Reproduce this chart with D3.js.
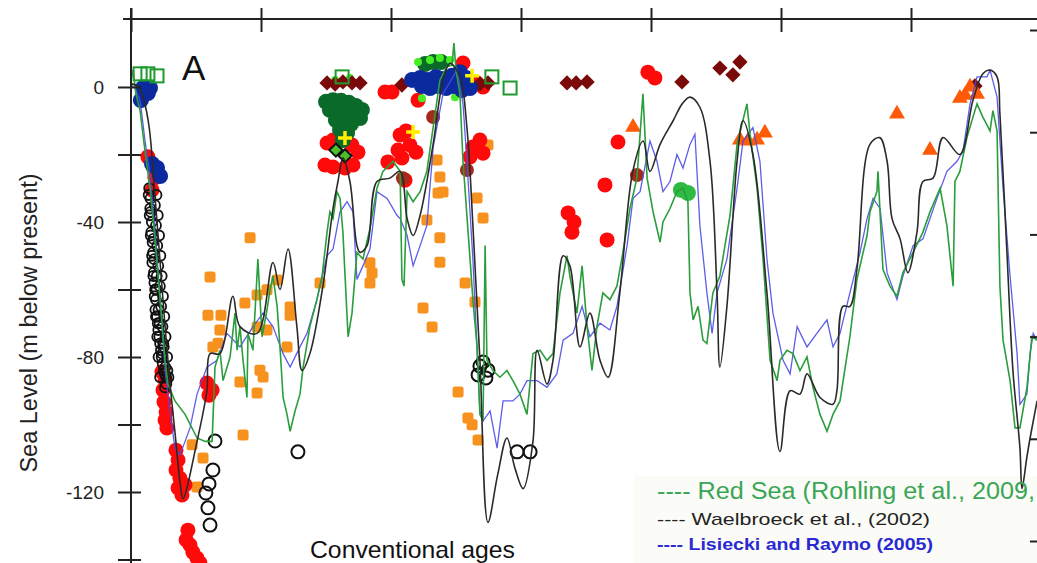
<!DOCTYPE html>
<html><head><meta charset="utf-8">
<script src="https://cdn.jsdelivr.net/npm/d3@7"></script>
<style>
body{margin:0;background:#fff}
svg{display:block}
text{font-family:"Liberation Sans",Arial,Helvetica,sans-serif}
</style>
</head><body>
<svg id="c" width="1037" height="563"></svg>
<script>
// ---------- axis ticks ----------
const ageTicks = [0, 50, 100, 150, 200, 250, 300, 350];
const levelTicks = [0, -20, -40, -60, -80, -100, -120, -140];
const levelLabels = [0, -40, -80, -120];
const rightTicks = [0, 1, 2, 3, 4, 5];

// ---------- series: [age ka, sea level m] ----------
const redSea = [[0,2],[0.8,5],[1.9,-2],[3.5,-7],[5.4,-19],[7.3,-30],[9.2,-45],[11.2,-63],[13.1,-81],[14.2,-88],[16.9,-93],[20.8,-97],[25.4,-104],[28.5,-105],[31.2,-105],[32.3,-83],[34.2,-78],[35.4,-87],[38.1,-80],[40,-67],[40.8,-78],[41.9,-71],[43.1,-81],[44.6,-92],[45,-73],[46.9,-78],[48.8,-51],[50.4,-74],[52.3,-66],[53.5,-60],[54.6,-56],[56.2,-65],[57.3,-77],[58.5,-92],[60,-97],[61.2,-102],[63.1,-96],[65,-91],[66.2,-83],[68.8,-71],[71.5,-63],[73.5,-56],[75.4,-43],[76.5,-37],[77.7,-39],[79.2,-31],[80.4,-33],[81.5,-43],[83.1,-68],[83.5,-74],[85,-67],[86.9,-49],[89.2,-51],[91.9,-42],[94.6,-30],[96.9,-25],[100.8,-22],[103.5,-25],[104.2,-57],[105,-59],[106.2,-31],[108.5,-34],[111.2,-31],[113.8,-25],[116.2,-12],[118.8,2],[121.5,6],[123.5,6.5],[124.2,13],[125,5],[126.5,-2],[127.7,-22],[130.4,-51],[131.5,-63],[133.1,-77],[134.2,-97],[135.4,-99],[136.2,-47],[136.9,-81],[139.2,-84],[141.9,-86],[144.6,-84],[146.9,-87],[149.6,-91],[152.3,-97],[154.6,-79],[157.3,-78],[160,-81],[162.3,-79],[165,-61],[167.7,-50],[168.8,-56],[171.5,-67],[173.5,-53],[175.4,-71],[177.3,-84],[179.2,-71],[181.5,-61],[184.2,-63],[186.9,-59],[189.2,-49],[191.9,-36],[194.6,-27],[196.9,-2],[198.5,-27],[200.8,-37],[203.5,-46],[204.6,-40],[207.3,-36],[210,-31],[212.3,-30],[214.2,-34],[215,-61],[216.2,-69],[218.1,-65],[220,-75],[221.5,-76],[223.8,-61],[226.5,-56],[230.4,-38],[233.1,-17],[236.9,-5],[238.1,-14],[240.8,-30],[243.1,-51],[245.8,-81],[248.5,-87],[249.6,-81],[252.3,-78],[254.6,-79],[257.3,-84],[260,-80],[262.3,-89],[265,-97],[267.7,-102],[270,-97],[272.7,-93],[276.5,-74],[279.2,-57],[283.1,-44],[284.2,-37],[286.9,-31],[287.3,-25],[289.2,-54],[291.9,-59],[294.6,-62],[296.9,-55],[300.8,-49],[304.6,-43],[307.3,-37],[311.2,-30],[313.8,-41],[316.2,-59],[316.9,-28],[318.8,-25],[321.5,-15],[323.8,-9],[325.4,-5],[327.7,-9],[330.4,-13],[331.5,-7],[333.1,-13],[334.2,-59],[335.4,-75],[338.1,-87],[340,-101],[341.9,-101],[344.6,-89],[346.5,-74],[348.5,-75]];

const waelbroeck = [[0,1],[3,0],[5,-4],[7,-12],[9,-30],[11,-50],[13,-70],[15,-88],[17,-103],[19,-118],[20,-122],[25.4,-105],[29.2,-90],[30.4,-79],[34.2,-79],[39.2,-62],[41.9,-71],[48.5,-73],[54.6,-52],[57.3,-60],[60.4,-48],[63.8,-71],[65.8,-84],[68.8,-79],[73.8,-59],[77.7,-36],[79.6,-28],[81.5,-21],[84.2,-28],[86.9,-47],[88.1,-49],[90.8,-47],[94.6,-28],[99.6,-27],[103.5,-25],[106.2,-39],[108.5,-44],[111.2,-38],[116.2,-17],[120,2],[122.7,7],[126.5,3],[129.2,-12],[131.5,-41],[134.2,-81],[137.3,-129],[141,-115],[144.6,-104],[147.7,-113],[150.8,-119],[154.6,-105],[156.2,-78],[160,-88],[162.3,-81],[166.2,-50],[168.8,-53],[172.7,-77],[176.5,-67],[180.4,-81],[183.5,-86],[188,-61],[193,-25],[197,-16],[199.6,-25],[203.5,-17],[208.5,-10],[212,-5],[215,-3],[218.8,-6],[222.7,-22],[225.4,-61],[226.5,-83],[229.2,-65],[233.1,-22],[235.4,-10],[239.2,-20],[244.6,-61],[249.6,-108],[253.5,-90],[257.3,-91],[260,-85],[265,-92],[270,-94],[271.5,-90],[273.8,-65],[276.5,-65],[279.2,-54],[284.2,-17],[288,-15],[290.8,-22],[292.7,-39],[295.8,-45],[298.8,-55],[302.3,-43],[304.6,-28],[308.5,-27],[312.3,-15],[318.8,-20],[323.8,-4],[327.7,4],[330.4,5],[333.1,3],[334.2,-8],[336.9,-49],[339.2,-84],[341.9,-107],[342.7,-119],[344.5,-110],[345.8,-104],[348.5,-93]];

const lisiecki = [[0,0.6],[1.5,-0.3],[3.5,-4],[5.4,-16],[7.3,-26],[9.2,-42],[11.2,-63],[13.1,-84],[15,-96],[16.9,-107],[18.8,-109],[20.8,-105],[22.7,-101],[25.4,-91],[29.2,-83],[33.1,-81],[36.9,-73],[41.9,-77],[46.9,-71],[50.8,-67],[54.6,-71],[58.5,-79],[61.2,-83],[65,-77],[67.7,-73],[71.5,-63],[75.4,-50],[77.7,-48],[80.4,-37],[83.1,-34],[85.4,-37],[86.9,-57],[89.2,-53],[91.9,-48],[94.6,-31],[98.5,-33],[102.3,-38],[103.5,-39],[106.2,-44],[108.5,-53],[111.2,-47],[113.8,-41],[116.2,-18],[120,-2],[125.4,5],[127.7,-5],[129.2,-22],[131.5,-51],[134.2,-96],[135.4,-99],[138.1,-96],[140.8,-107],[143.1,-93],[146.9,-93],[149.6,-91],[152.3,-87],[156.2,-87],[160,-89],[163.8,-85],[166.2,-75],[170,-73],[173.5,-65],[176.5,-74],[180.4,-70],[184.2,-72],[186.9,-65],[190.8,-47],[193.1,-33],[195.8,-31],[199.6,-16],[202.3,-22],[204.6,-31],[207.3,-28],[210,-20],[212.3,-24],[215,-17],[216.9,-14],[218.8,-41],[221.5,-61],[223.5,-73],[225.4,-61],[229.2,-51],[233.1,-30],[235.4,-16],[239.2,-12],[241.9,-22],[244.6,-51],[246.9,-67],[250.8,-81],[253.5,-85],[256.2,-71],[260,-77],[263.8,-73],[267.7,-69],[270,-77],[272.7,-73],[276.5,-61],[280.4,-49],[283.1,-39],[285.4,-33],[288.1,-36],[290.8,-55],[294.6,-63],[296.9,-56],[300.8,-47],[304.6,-45],[310,-33],[313.8,-25],[317.7,-22],[320,-19],[322.7,-5],[325.4,3],[329.2,3],[330.4,5],[333.1,-3],[335.4,-30],[338.1,-56],[340.8,-79],[341.9,-94],[344.6,-91],[345.8,-79],[347,-73],[348.5,-75]];

// ---------- data points: [age ka, sea level m] ----------
const redCircles = [[6.5,-20.7],[8.5,-23.7],[9.2,-26.9],[8.1,-30.5],[11.9,-84.4],[13.1,-86.8],[12.3,-89.8],[12.7,-93.3],[13.5,-96.3],[13.1,-98.7],[13.8,-101],[17.3,-107.6],[18.1,-110.5],[17.3,-113.5],[18.8,-115.9],[18.1,-118.8],[19.6,-120.9],[20.8,-117.9],[21.2,-134.2],[21.9,-131.3],[22.7,-135.7],[23.8,-137.8],[25.4,-139.6],[26.5,-141],[29.2,-87.7],[31.2,-89.8],[30,-91.3],[75.4,-16.6],[77.7,-15.7],[85,-17.2],[74.6,-23.1],[77.7,-23.7],[82.3,-24],[85.4,-23.1],[87.3,-19.3],[97.7,-1.5],[100.4,-1.5],[110.4,-3.9],[103.5,-14.2],[105.8,-13],[102.7,-18.7],[107.3,-17.2],[109.6,-19.3],[104.2,-21],[98.8,-22.2],[105.4,-27.6],[127.7,7.1],[133.1,1.2],[135.4,0],[131.5,-17.8],[134.2,-15.7],[135.4,-19.6],[130.4,-20.7],[187.3,-16.3],[182.3,-29],[168.1,-37.3],[170.4,-40],[169.6,-43],[183.1,-45.3],[198.8,4.4],[201.5,2.7]];
const brownCircles = [[116.2,-8.9],[129.2,-24.6],[194.6,-26.1],[104.6,-27]];
const orangeSquares = [[45.8,-44.7],[30.4,-56.3],[29.6,-67.6],[34.6,-67.6],[43.8,-64],[48.5,-61.6],[52.3,-60.1],[56.2,-57.2],[61.2,-65.2],[61.2,-67.6],[34.2,-72],[31.5,-77],[33.5,-75.9],[48.5,-71.1],[52.3,-72],[60,-77],[49.6,-83.9],[50.8,-85.9],[41.9,-87.4],[48.5,-90.7],[43.1,-103.1],[23.5,-106],[27.7,-109.9],[25.4,-118.5],[72.7,-58.1],[91.9,-52.1],[92.7,-55.1],[91.9,-58.1],[137.3,-17.2],[117.7,-21.6],[118.8,-26.7],[118.1,-31.4],[120,-31.1],[113.8,-39.4],[118.8,-44.7],[118.8,-51.9],[133.1,-32.9],[135.4,-38.8],[128.5,-58.1],[132.3,-63.7],[112.3,-65.5],[115.8,-71.1],[125.8,-90.4],[129.6,-98.1],[131.2,-100.1],[133.5,-104.6]];
const darkRedDiamonds = [[75.4,1.2],[78.5,0.9],[81.5,1.5],[85,1.2],[88.1,1.2],[104.2,0.6],[134.2,0.9],[137.3,1.2],[167.7,1.2],[171.2,1.2],[175.4,1.5],[211.9,1.5],[226.5,5.6],[231.5,3.6],[234.2,7.4],[324.6,0.3]];
const darkGreenCircles = [[75,-4.4],[77.7,-3.9],[80.8,-4.1],[83.8,-4.7],[86.5,-5.6],[88.8,-6.8],[76.5,-6.8],[79.6,-7.4],[82.7,-7.7],[85.8,-8.3],[88.1,-9.2],[78.8,-9.8],[81.9,-10.4],[84.6,-11],[80.4,-12.7],[83.1,-13.6],[81.5,-15.7],[113.1,6.8],[116.2,7.4],[119.2,7.4]];
const limeCircles = [[110.4,7.4],[115,8],[118.8,8.6],[122.7,8],[111.9,-3.3],[124.6,-3],[78.5,2.1],[84.2,2.7]];
const blueCircles = [[4.6,-0.3],[6.5,-1.8],[7.3,-0.3],[3.8,-3.9],[8.1,-22.8],[10,-24],[11.2,-26.4],[108.1,2.1],[111.2,2.7],[114.2,2.1],[117.3,3.0],[120.4,2.4],[123.5,3.3],[126.5,4.4],[128.8,2.7],[130.4,-0.3],[127.3,-0.9],[124.2,0.3],[121.2,-0.3],[118.1,0.3],[115,-0.3],[111.9,0.3],[125.8,2.1]];
const greenSquares = [[3.5,3.9],[6.5,3.9],[10,3.3],[81.2,3.0],[138.8,3.0],[145.8,-0.3]];
const yellowPlus = [[82.3,-15.1],[108.5,-13.3],[131.2,3.3]];
const greenDiamonds = [[78.8,-18.7],[82.3,-20.4]];
const orangeTriangles = [[193.1,-11.9],[234.2,-15.7],[237.3,-16],[240.8,-15.7],[243.8,-13.6],[294.6,-8],[307.3,-18.7],[318.8,-3.3],[320.8,-2.4],[325.4,-2.1],[322.7,0]];
const lightGreenCircles = [[211.5,-30.5],[214.2,-31.4]];
const smallOpenCircles = [[7.0,-30],[7.5,-33],[7.6,-37],[8.0,-40],[7.8,-43],[8.3,-46],[8.5,-49],[8.2,-52],[8.8,-55],[9.0,-58],[9.3,-60],[9.6,-63],[9.4,-66],[10.0,-68],[10.3,-70],[10.5,-72],[10.9,-74],[11.2,-76],[11.5,-78],[11.8,-80],[12.2,-82],[12.6,-84],[13.0,-85],[13.5,-86],[8.6,-45],[9.8,-60],[11.0,-70],[12.0,-79],[13.2,-83],[7.4,-36],[8.9,-51],[10.6,-66],[12.4,-76],[13.6,-88],[9.9,-56],
  [6.8,-32],[7.2,-38],[7.6,-44],[8.1,-50],[8.6,-56],[9.1,-62],[9.6,-68],[10.1,-74],[10.6,-80],[11.2,-86],
  [9.8,-32],[10.3,-38],[10.8,-44],[11.3,-50],[11.8,-56],[12.3,-62],[12.8,-68],[13.3,-74],[13.9,-80],[14.4,-86],
  [9.2,-35],[9.6,-41],[10.1,-47],[10.5,-53],[11.1,-59],[11.6,-65],[12.1,-71],[12.6,-77],[13.1,-89],[14.0,-84]];
const openCircles = [[32.3,-104.9],[31.5,-113.5],[30,-117.6],[28.8,-120.3],[29.6,-124.7],[30.4,-129.8],[64.2,-108.1],[134.2,-82.7],[137.3,-83.9],[133.5,-85.3],[136.5,-86.2],[135.4,-81.5],[148.5,-108.1],[153.5,-108.1]];

// ---------- texts ----------
const yLabel = "Sea Level (m below present)";
const panelLabel = "A";
const xNote = "Conventional ages";
const legendItems = [
  {text:"---- Red Sea (Rohling et al., 2009,", color:"#3aa655"},
  {text:"---- Waelbroeck et al., (2002)", color:"#222222"},
  {text:"---- Lisiecki and Raymo (2005)", color:"#2a2ad2"}
];

// ---------- layout ----------
const svg = d3.select("#c");
const x = d3.scaleLinear().domain([0, 350]).range([131, 1041]);
const y = d3.scaleLinear().domain([0, -120]).range([87, 492]);
const yR = d3.scaleLinear().domain([0, 5]).range([30, 541]);
const P = d => [x(d[0]), y(d[1])];

svg.append("rect").attr("x", 634).attr("y", 476).attr("width", 403).attr("height", 87).attr("fill", "#fbfbf7");

const marks = svg.append("g");

marks.selectAll(".os").data(orangeSquares).join("rect")
  .attr("x", d => x(d[0]) - 5.5).attr("y", d => y(d[1]) - 5.5)
  .attr("width", 11).attr("height", 11).attr("rx", 2.5)
  .attr("fill", "#f7921f");

marks.selectAll(".rc").data(redCircles).join("circle")
  .attr("cx", d => x(d[0])).attr("cy", d => y(d[1])).attr("r", 7.5).attr("fill", "#ff0a0a");
marks.selectAll(".bc").data(brownCircles).join("circle")
  .attr("cx", d => x(d[0])).attr("cy", d => y(d[1])).attr("r", 7).attr("fill", "#a52a1a");

marks.selectAll(".dg").data(darkGreenCircles).join("circle")
  .attr("cx", d => x(d[0])).attr("cy", d => y(d[1])).attr("r", 8).attr("fill", "#0a6a2a");
marks.selectAll(".lm").data(limeCircles).join("circle")
  .attr("cx", d => x(d[0])).attr("cy", d => y(d[1])).attr("r", 4).attr("fill", "#44ee22");

const diamond = d3.symbol().type(d3.symbolDiamond2).size(150);
marks.selectAll(".dd").data(darkRedDiamonds).join("path")
  .attr("transform", d => `translate(${x(d[0])},${y(d[1])})`)
  .attr("d", diamond).attr("fill", "#7a0a0a");

marks.selectAll(".lg").data(lightGreenCircles).join("circle")
  .attr("cx", d => x(d[0])).attr("cy", d => y(d[1])).attr("r", 8).attr("fill", "#2ebb44");

marks.selectAll(".bl").data(blueCircles).join("circle")
  .attr("cx", d => x(d[0])).attr("cy", d => y(d[1])).attr("r", 8).attr("fill", "#0b2a9e");

const tri = d3.symbol().type(d3.symbolTriangle).size(110);
marks.selectAll(".ot").data(orangeTriangles).join("path")
  .attr("transform", d => `translate(${x(d[0])},${y(d[1])})`)
  .attr("d", tri).attr("fill", "#ff5a08");

const gd = d3.symbol().type(d3.symbolDiamond2).size(110);
marks.selectAll(".gd").data(greenDiamonds).join("path")
  .attr("transform", d => `translate(${x(d[0])},${y(d[1])})`)
  .attr("d", gd).attr("fill", "#4cc02a").attr("stroke", "#111").attr("stroke-width", 2);

marks.selectAll(".gs").data(greenSquares).join("rect")
  .attr("x", d => x(d[0]) - 6.5).attr("y", d => y(d[1]) - 6.5)
  .attr("width", 13).attr("height", 13)
  .attr("fill", "none").attr("stroke", "#1e9a2e").attr("stroke-width", 2);

marks.selectAll(".sc").data(smallOpenCircles).join("circle")
  .attr("cx", d => x(d[0])).attr("cy", d => y(d[1])).attr("r", 5)
  .attr("fill", "none").attr("stroke", "#111").attr("stroke-width", 1.8);

marks.selectAll(".oc").data(openCircles).join("circle")
  .attr("cx", d => x(d[0])).attr("cy", d => y(d[1])).attr("r", 6.5)
  .attr("fill", "none").attr("stroke", "#111").attr("stroke-width", 2);

const plus = svg.append("g");
yellowPlus.forEach(d => {
  const [cx, cy] = P(d);
  plus.append("path").attr("d", `M${cx-7},${cy}H${cx+7}M${cx},${cy-7}V${cy+7}`)
    .attr("stroke", "#ffee00").attr("stroke-width", 3.5);
});

// ---------- lines ----------
const lineLin = d3.line().x(d => x(d[0])).y(d => y(d[1]));
const lineSmooth = d3.line().x(d => x(d[0])).y(d => y(d[1])).curve(d3.curveCatmullRom.alpha(0.5));
svg.append("path").datum(lisiecki).attr("d", lineLin)
  .attr("fill", "none").attr("stroke", "#4b4be6").attr("stroke-width", 1.3).attr("stroke-opacity", 0.9);
svg.append("path").datum(redSea).attr("d", lineLin)
  .attr("fill", "none").attr("stroke", "#2a9e3c").attr("stroke-width", 1.6);
svg.append("path").datum(waelbroeck).attr("d", lineSmooth)
  .attr("fill", "none").attr("stroke", "#2a2a2a").attr("stroke-width", 1.6);

// ---------- axes ----------
const axColor = "#222";
const topAx = svg.append("g").attr("transform", "translate(0,19)")
  .call(d3.axisTop(x).tickValues(ageTicks).tickFormat("").tickSizeOuter(0));
topAx.select(".domain").remove();
topAx.selectAll(".tick line").attr("y1", -11).attr("y2", 13).attr("stroke", axColor).attr("stroke-width", 2);
svg.append("line").attr("x1", 123).attr("x2", 1037).attr("y1", 19).attr("y2", 19)
  .attr("stroke", axColor).attr("stroke-width", 2);

const leftAx = svg.append("g").attr("transform", "translate(131,0)")
  .call(d3.axisLeft(y).tickValues(levelTicks)
    .tickFormat(d => levelLabels.includes(d) ? String(d) : "").tickSizeOuter(0));
leftAx.select(".domain").remove();
leftAx.selectAll(".tick line").attr("x1", -13).attr("x2", 10).attr("stroke", axColor).attr("stroke-width", 2);
leftAx.selectAll(".tick text").attr("x", -27).attr("font-size", 19).attr("fill", "#222")
  .attr("font-family", '"Liberation Sans",Arial,sans-serif');
svg.append("line").attr("x1", 131).attr("x2", 131).attr("y1", 8).attr("y2", 563)
  .attr("stroke", axColor).attr("stroke-width", 2);

const rightAx = svg.append("g").attr("transform", "translate(1037,0)")
  .call(d3.axisLeft(yR).tickValues(rightTicks).tickFormat("").tickSize(7).tickSizeOuter(0));
rightAx.select(".domain").remove();
rightAx.selectAll(".tick line").attr("stroke", axColor).attr("stroke-width", 2);

// ---------- texts ----------
svg.append("text").attr("x", 182).attr("y", 80).attr("font-size", 35).attr("fill", "#111").text(panelLabel);
svg.append("text").attr("transform", "translate(37,323) rotate(-90)").attr("text-anchor", "middle")
  .attr("font-size", 23.5).attr("fill", "#222").text(yLabel);
svg.append("text").attr("x", 310).attr("y", 558).attr("font-size", 24).attr("fill", "#111")
  .attr("textLength", 205).attr("lengthAdjust", "spacingAndGlyphs").text(xNote);

const lg = svg.append("g");
lg.append("text").attr("x", 657).attr("y", 499).attr("font-size", 23).attr("fill", legendItems[0].color)
  .attr("textLength", 378).attr("lengthAdjust", "spacingAndGlyphs").text(legendItems[0].text);
lg.append("text").attr("x", 657).attr("y", 525).attr("font-size", 17).attr("fill", legendItems[1].color)
  .attr("textLength", 273).attr("lengthAdjust", "spacingAndGlyphs").text(legendItems[1].text);
lg.append("text").attr("x", 657).attr("y", 550).attr("font-size", 17).attr("font-weight", "bold").attr("fill", legendItems[2].color)
  .attr("textLength", 276).attr("lengthAdjust", "spacingAndGlyphs").text(legendItems[2].text);
</script>
</body></html>
